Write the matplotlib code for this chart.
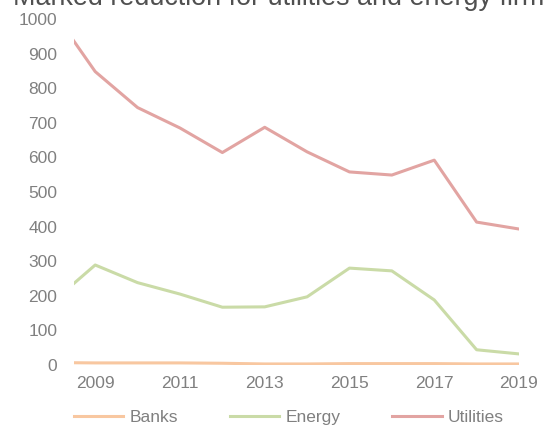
import matplotlib
matplotlib.use('Agg')
import matplotlib.pyplot as plt

years = [2008, 2009, 2010, 2011, 2012, 2013, 2014, 2015, 2016, 2017, 2018, 2019]
banks = [7, 6, 6, 6, 5, 3, 3, 4, 4, 4, 3, 3]
energy = [183, 289, 238, 205, 167, 168, 197, 280, 272, 188, 44, 32]
utilities = [1023, 848, 744, 685, 614, 687, 616, 558, 549, 592, 413, 393]

x_ticks = [2009, 2011, 2013, 2015, 2017, 2019]
y_ticks = list(range(0, 1001, 100))

plt.rcParams['font.family'] = ['Liberation Sans', 'DejaVu Sans']

fig = plt.figure(figsize=(5.43, 4.25), dpi=100)
ax = fig.add_axes([0.1363, 0.1412, 0.8195, 0.8141])

ax.plot(years, banks, color='#F8C7A0', lw=2.2, label='Banks')
ax.plot(years, energy, color='#CADBA7', lw=2.2, label='Energy')
ax.plot(years, utilities, color='#E2A4A2', lw=2.2, label='Utilities')

ax.set_xlim(2008.5, 2019)
ax.set_ylim(0, 1000)
ax.set_xticks(x_ticks)
ax.set_yticks(y_ticks)
ax.tick_params(length=0, labelsize=12.5, labelcolor='#808080')
ax.tick_params(axis='y', pad=12)
ax.tick_params(axis='x', pad=8)
for s in ax.spines.values():
    s.set_visible(False)

fig.text(0.024, 0.988, 'Marked reduction for utilities and energy firms', fontsize=19.4,
         color='#505050', va='baseline', ha='left')

fig.legend(loc='center', bbox_to_anchor=(0.532, 1 - 417 / 425), ncol=3, frameon=False,
           fontsize=12.5, labelcolor='#808080', handlelength=2.85, columnspacing=3.0,
           handletextpad=0.35)

fig.savefig('out.png', dpi=100)
